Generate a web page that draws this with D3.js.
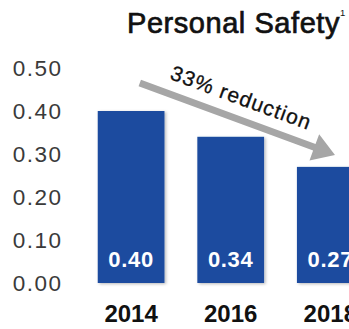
<!DOCTYPE html>
<html>
<head>
<meta charset="utf-8">
<script src="https://cdn.jsdelivr.net/npm/d3@7"></script>
<style>
  html, body { margin: 0; padding: 0; background: #fff; }
  svg { display: block; font-family: "Liberation Sans", Arial, sans-serif; }
</style>
</head>
<body>
<div id="chart"></div>
<script>
// Personal safety index by survey year
const years = ["2014", "2016", "2018"];
const values = [0.40, 0.34, 0.27];
const valueLabels = ["0.40", "0.34", "0.27"];
const yTicks = [0, 0.1, 0.2, 0.3, 0.4, 0.5];
const yTickLabels = ["0.00", "0.10", "0.20", "0.30", "0.40", "0.50"];
const title = "Personal Safety";
const titleNote = "1";
const trendLabel = "33% reduction";

const W = 349, H = 329;
const svg = d3.select("#chart").append("svg")
  .attr("width", W).attr("height", H);

const defs = svg.append("defs");
const shadow = defs.append("filter").attr("id", "barShadow")
  .attr("x", "-20%").attr("y", "-10%").attr("width", "140%").attr("height", "120%");
shadow.append("feDropShadow")
  .attr("dx", 1.5).attr("dy", 1).attr("stdDeviation", 1.6)
  .attr("flood-color", "#000").attr("flood-opacity", 0.28);

const x = d3.scaleBand()
  .domain(years)
  .range([81.3, 380.1])
  .paddingInner(0.33)
  .paddingOuter(0.165);

const y = d3.scaleLinear()
  .domain([0, 0.5])
  .range([283, 68]);

// Title with footnote marker
svg.append("text")
  .attr("x", 127).attr("y", 33)
  .attr("font-size", 29)
  .attr("letter-spacing", 0.55)
  .attr("fill", "#111")
  .attr("stroke", "#111").attr("stroke-width", 0.7)
  .text(title);
svg.append("text")
  .attr("x", 340).attr("y", 16)
  .attr("font-size", 9.5)
  .attr("fill", "#111")
  .text(titleNote);

// Value axis (labels only)
const yAxis = d3.axisLeft(y)
  .tickValues(yTicks)
  .tickFormat((d, i) => yTickLabels[i])
  .tickSize(0)
  .tickPadding(2);
const gy = svg.append("g")
  .attr("transform", "translate(64.5,0)")
  .call(yAxis);
gy.select(".domain").remove();
gy.selectAll("text")
  .attr("font-family", "Liberation Sans, Arial, sans-serif")
  .attr("font-size", 22.5)
  .attr("letter-spacing", 1.5)
  .attr("fill", "#3a3a3a");

// Bars
svg.append("g").selectAll("rect")
  .data(values)
  .join("rect")
  .attr("x", (d, i) => x(years[i]))
  .attr("y", d => y(d))
  .attr("width", x.bandwidth())
  .attr("height", d => y(0) - y(d))
  .attr("fill", "#1d4c9f")
  .attr("filter", "url(#barShadow)");

// Values inside bars
svg.append("g").selectAll("text")
  .data(values)
  .join("text")
  .attr("x", (d, i) => x(years[i]) + x.bandwidth() / 2)
  .attr("y", y(0) - 16.5)
  .attr("text-anchor", "middle")
  .attr("font-size", 22)
  .attr("font-weight", "bold")
  .attr("letter-spacing", 0.7)
  .attr("fill", "#fff")
  .text((d, i) => valueLabels[i]);

// Year labels
const xAxis = d3.axisBottom(x).tickSize(0).tickPadding(0);
const gx = svg.append("g")
  .attr("transform", `translate(0,${y(0)})`)
  .call(xAxis);
gx.select(".domain").remove();
gx.selectAll("text")
  .attr("font-family", "Liberation Sans, Arial, sans-serif")
  .attr("font-size", 24)
  .attr("font-weight", "bold")
  .attr("fill", "#111")
  .attr("dy", null)
  .attr("y", 38.5);

// Trend arrow from first to last bar
const p0 = [x(years[0]) + x.bandwidth() * 0.63, y(values[0]) - 28];
const p1 = [x(years[2]) + x.bandwidth() * 0.57, y(values[2]) - 12];
const dxA = p1[0] - p0[0], dyA = p1[1] - p0[1];
const len = Math.hypot(dxA, dyA);
const ang = Math.atan2(dyA, dxA) * 180 / Math.PI;
const shaftHalf = 3.5, headLen = 22, headHalf = 14;

const arrow = svg.append("g")
  .attr("transform", `translate(${p0[0]},${p0[1]}) rotate(${ang})`);
arrow.append("path")
  .attr("d", d3.line()([
    [0, -shaftHalf],
    [len - headLen, -shaftHalf],
    [len - headLen, -headHalf],
    [len, 0],
    [len - headLen, headHalf],
    [len - headLen, shaftHalf],
    [0, shaftHalf]
  ]) + "Z")
  .attr("fill", "#a6a6a6");
arrow.append("text")
  .attr("x", 26).attr("y", -14)
  .attr("font-size", 21)
  .attr("letter-spacing", 1.1)
  .attr("fill", "#111")
  .attr("stroke", "#111").attr("stroke-width", 0.3)
  .text(trendLabel);
</script>
</body>
</html>
